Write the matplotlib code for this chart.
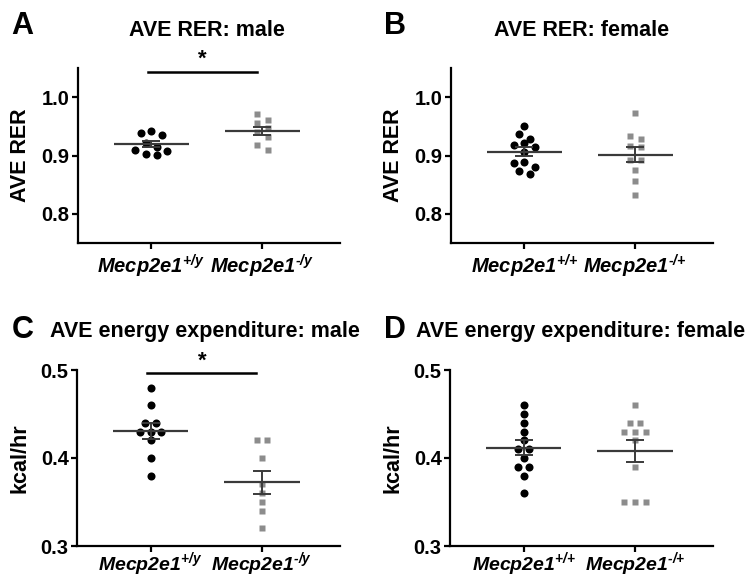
import numpy as np
import matplotlib.pyplot as plt

plt.rcParams['font.family'] = 'Liberation Sans'
plt.rcParams['font.weight'] = 'bold'
plt.rcParams['mathtext.fontset'] = 'custom'
plt.rcParams['mathtext.it'] = 'Liberation Sans:italic:bold'
plt.rcParams['mathtext.rm'] = 'Liberation Sans:italic:bold'
plt.rcParams['mathtext.bf'] = 'Liberation Sans:italic:bold'

# --- data ---
male_groups = ['$\\mathit{Mecp2e1}^{+/y}$', '$\\mathit{Mecp2e1}^{\u2010/y}$']
female_groups = ['$\\mathit{Mecp2e1}^{+/{+}}$', '$\\mathit{Mecp2e1}^{\u2010/{+}}$']

rer_male_wt = [0.942, 0.939, 0.936, 0.921, 0.915, 0.910, 0.908, 0.902, 0.901]
rer_male_ko = [0.972, 0.961, 0.955, 0.947, 0.941, 0.932, 0.918, 0.909]
rer_female_wt = [0.951, 0.937, 0.928, 0.922, 0.918, 0.915, 0.906,
                 0.889, 0.888, 0.880, 0.873, 0.869]
rer_female_ko = [0.973, 0.933, 0.928, 0.916, 0.915, 0.893, 0.892,
                 0.876, 0.856, 0.833]

ee_male_wt = [0.48, 0.46, 0.44, 0.44, 0.43, 0.43, 0.43, 0.42, 0.40, 0.38]
ee_male_ko = [0.42, 0.42, 0.40, 0.37, 0.36, 0.35, 0.34, 0.32]
ee_female_wt = [0.46, 0.45, 0.44, 0.43, 0.42, 0.41, 0.41, 0.40,
                0.39, 0.39, 0.38, 0.36]
ee_female_ko = [0.46, 0.44, 0.44, 0.43, 0.43, 0.43, 0.42, 0.39,
                0.35, 0.35, 0.35]

W, H = 746, 577
fig = plt.figure(figsize=(W / 100, H / 100), dpi=100)


def px_axes(left, top, right, bottom):
    return fig.add_axes([left / W, 1 - bottom / H, (right - left) / W, (bottom - top) / H])


def swarm_offsets(values, row_h, step):
    # points that fall in one row are spread symmetrically around the centre
    values = np.asarray(values)
    order = np.argsort(-values, kind='stable')
    rows = []
    for i in order:
        if rows and values[rows[-1][0]] - values[i] < row_h:
            rows[-1].append(i)
        else:
            rows.append([i])
    offs = np.zeros(len(values))
    for row in rows:
        n = len(row)
        slots = sorted(np.arange(n) - (n - 1) / 2, key=lambda s: (abs(s), s))
        for i, s in zip(row, slots):
            offs[i] = s * step
    return offs


def panel(ax, wt, ko, groups, ylim, yticks, ylabel, xpad, xfs):
    ax.set_xlim(-0.66, 1.7)
    ax.set_ylim(*ylim)
    bbox = ax.get_window_extent()
    px_per_unit = bbox.height / (ylim[1] - ylim[0])
    for x, vals, mk, col, ms in [(0, wt, 'o', 'black', 5.8), (1, ko, 's', '#8c8c8c', 5.0)]:
        vals = np.asarray(vals)
        offs = swarm_offsets(vals, 8.0 / px_per_unit, 0.095)
        ax.plot(x + offs, vals, mk, color=col, ms=ms, mec='none', zorder=2, clip_on=False)
        m = vals.mean()
        sem = vals.std(ddof=1) / np.sqrt(len(vals))
        ax.hlines(m, x - 0.34, x + 0.34, color='#3a3a3a', lw=1.6, zorder=3)
        ax.errorbar(x, m, yerr=sem, color='#3a3a3a', lw=1.4, capsize=6.5,
                    capthick=1.4, zorder=3)
    ax.set_xticks([0, 1])
    ax.set_xticklabels(groups, fontsize=xfs)
    ax.set_yticks(yticks)
    ax.set_yticklabels([f'{t:.1f}' for t in yticks], fontsize=14.5)
    ax.set_ylabel(ylabel, fontsize=15.5, fontweight='bold')
    ax.yaxis.set_label_coords(-0.178, 0.5)
    for s in ['top', 'right']:
        ax.spines[s].set_visible(False)
    for s in ['left', 'bottom']:
        ax.spines[s].set_linewidth(1.6)
    ax.tick_params(width=1.6, length=4, pad=2)
    ax.tick_params(axis='x', pad=xpad)


axA = px_axes(78, 68, 340, 243)
axB = px_axes(451, 68, 713, 243)
axC = px_axes(77, 370, 340, 546)
axD = px_axes(450, 370, 713, 546)

panel(axA, rer_male_wt, rer_male_ko, male_groups, (0.75, 1.05), [0.8, 0.9, 1.0], 'AVE RER', 3, 14.5)
panel(axB, rer_female_wt, rer_female_ko, female_groups, (0.75, 1.05), [0.8, 0.9, 1.0], 'AVE RER', 3, 14.5)
panel(axC, ee_male_wt, ee_male_ko, male_groups, (0.3, 0.5), [0.3, 0.4, 0.5], 'kcal/hr', -1.2, 14)
panel(axD, ee_female_wt, ee_female_ko, female_groups, (0.3, 0.5), [0.3, 0.4, 0.5], 'kcal/hr', -1.2, 14)

# significance bars
for ax, ybar, ystar in [(axA, 1.044, 1.047), (axC, 0.497, 0.4985)]:
    ax.plot([-0.03, 0.95], [ybar, ybar], color='black', lw=1.8, clip_on=False)
    ax.text(0.46, ystar, '*', ha='center', va='bottom', fontsize=16, fontweight='bold')

# titles and panel letters
fig.text(207 / W, 1 - 36 / H, 'AVE RER: male', ha='center', va='baseline', fontsize=15.5)
fig.text(582 / W, 1 - 36 / H, 'AVE RER: female', ha='center', va='baseline', fontsize=15.5)
fig.text(205 / W, 1 - 337 / H, 'AVE energy expenditure: male', ha='center', va='baseline', fontsize=15.5)
fig.text(416 / W, 1 - 337 / H, 'AVE energy expenditure: female', ha='left', va='baseline', fontsize=15.5)
for letter, x, y in [('A', 11, 34), ('B', 384, 34), ('C', 12, 338), ('D', 384, 338)]:
    fig.text(x / W, 1 - y / H, letter, ha='left', va='baseline', fontsize=22)

plt.savefig('out.png', dpi=100)
